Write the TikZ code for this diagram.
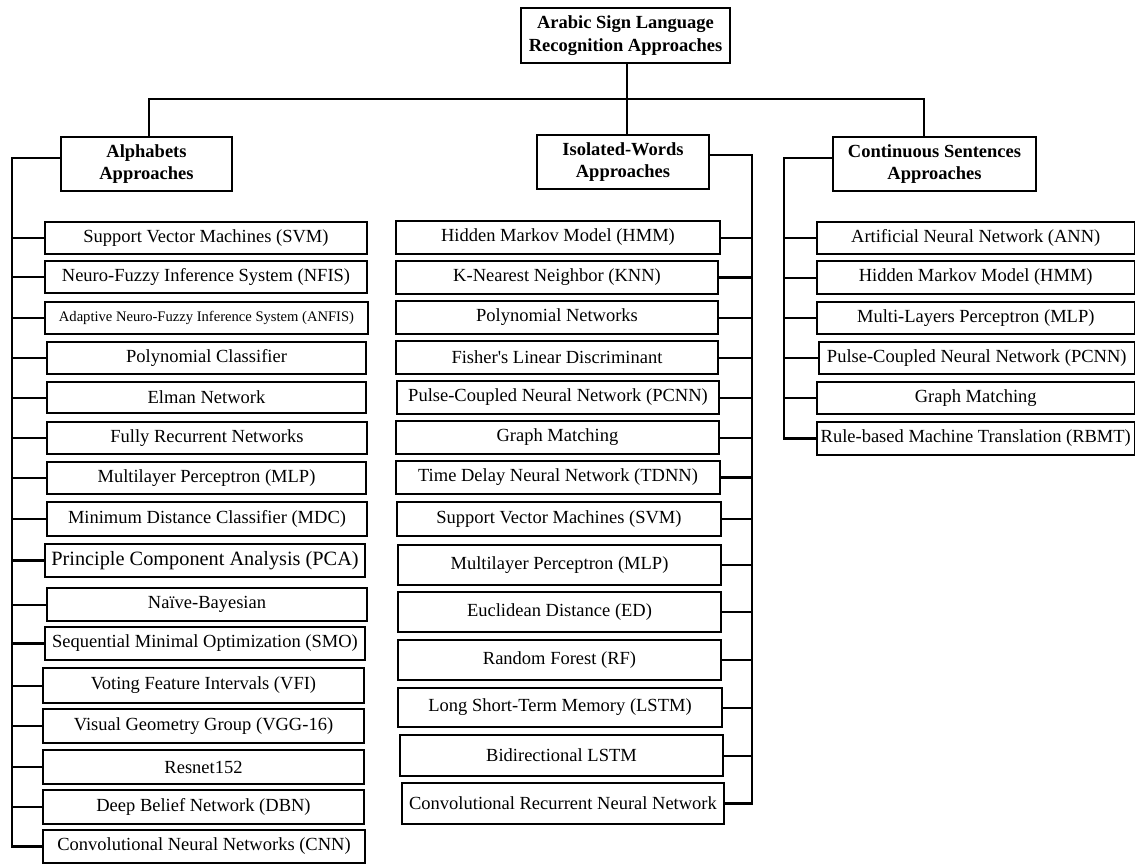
\documentclass[tikz,border=0pt]{standalone}
\usepackage{fontspec}
\setmainfont{Liberation Serif}
\tikzset{
  box/.style={draw=black, line width=1.6pt, fill=white, inner sep=0pt, align=center,
              font=\fontsize{18.5}{22}\selectfont},
  hbox/.style={box, font=\fontsize{18.5}{22.5}\selectfont\bfseries},
  mainline/.style={line width=2.9pt, line cap=rect},
  thinline/.style={line width=2pt},
  thkline/.style={line width=2.9pt},
}
\newcommand\bx[7][]{\node[box,#1,minimum width={(#5-#3)*1pt},minimum height={(#6-#4)*1pt}] (#2) at ({(#3+#5)/2},{(#4+#6)/2}) {#7};}
\begin{document}
\begin{tikzpicture}[x=1pt,y=-1pt]
\fill[white] (0,0) rectangle (1136,864);
\useasboundingbox (0,0) rectangle (1136,864);

% headers
\bx[hbox]{root}{521}{8}{730}{63}{Arabic Sign Language\\Recognition Approaches}
\bx[hbox]{alph}{61}{137}{232}{191}{Alphabets\\Approaches}
\bx[hbox]{iso}{537}{135}{709}{189}{Isolated-Words\\Approaches}
\bx[hbox]{cont}{833}{137}{1036}{191}{Continuous Sentences\\Approaches}

% alphabets items
\bx{a1}{45}{222}{367}{254}{Support Vector Machines (SVM)}
\bx{a2}{45}{261}{367}{293}{Neuro-Fuzzy Inference System (NFIS)}
\bx[font=\fontsize{14.6}{16}\selectfont]{a3}{45}{302}{368}{334}{Adaptive Neuro-Fuzzy Inference System (ANFIS)}
\bx{a4}{47}{342}{366}{374}{Polynomial Classifier}
\bx{a5}{47}{382}{366}{413}{Elman Network}
\bx{a6}{47}{422}{367}{454}{Fully Recurrent Networks}
\bx{a7}{47}{462}{366}{494}{Multilayer Perceptron (MLP)}
\bx{a8}{47}{502}{367}{536}{Minimum Distance Classifier (MDC)}
\bx[font=\fontsize{20.3}{22}\selectfont]{a9}{45}{544}{365}{577}{Principle Component Analysis (PCA)}
\bx{a10}{47}{588}{367}{621}{Naïve-Bayesian}
\bx{a11}{45}{627}{365}{660}{Sequential Minimal Optimization (SMO)}
\bx{a12}{43}{668}{364}{703}{Voting Feature Intervals (VFI)}
\bx{a13}{43}{709}{364}{743}{Visual Geometry Group (VGG-16)}
\bx{a14}{43}{750}{364}{784}{Resnet152}
\bx{a15}{43}{790}{364}{824}{Deep Belief Network (DBN)}
\bx{a16}{43}{830}{365}{863}{Convolutional Neural Networks (CNN)}

% isolated items
\bx{i1}{396}{221}{720}{254}{Hidden Markov Model (HMM)}
\bx{i2}{396}{261}{718}{294}{K-Nearest Neighbor (KNN)}
\bx{i3}{396}{301}{718}{334}{Polynomial Networks}
\bx{i4}{396}{341}{718}{374}{Fisher\textquotesingle s Linear Discriminant}
\bx{i5}{397}{381}{719}{414}{Pulse-Coupled Neural Network (PCNN)}
\bx{i6}{396}{421}{719}{454}{Graph Matching}
\bx{i7}{396}{461}{720}{494}{Time Delay Neural Network (TDNN)}
\bx{i8}{397}{502}{721}{536}{Support Vector Machines (SVM)}
\bx{i9}{398}{545}{721}{585}{Multilayer Perceptron (MLP)}
\bx{i10}{398}{592}{721}{632}{Euclidean Distance (ED)}
\bx{i11}{398}{640}{721}{680}{Random Forest (RF)}
\bx{i12}{398}{688}{722}{727}{Long Short-Term Memory (LSTM)}
\bx{i13}{400}{735}{723}{776}{Bidirectional LSTM}
\bx{i14}{402}{783}{724}{824}{Convolutional Recurrent Neural Network}

% continuous items
\bx{c1}{817}{222}{1134.5}{254}{Artificial Neural Network (ANN)}
\bx{c2}{817}{261}{1134.5}{294}{Hidden Markov Model (HMM)}
\bx{c3}{817}{302}{1134.5}{334}{Multi-Layers Perceptron (MLP)}
\bx{c4}{819}{342}{1134.5}{374}{Pulse-Coupled Neural Network (PCNN)}
\bx{c5}{817}{382}{1134.5}{414}{Graph Matching}
\bx{c6}{817}{422}{1134.5}{455}{Rule-based Machine Translation (RBMT)}

% tree bus
\coordinate (bA) at (149,99);
\coordinate (bI) at (627,99);
\coordinate (bC) at (924,99);
\draw[mainline] (bI |- root.south) -- (bI |- iso.north);
\draw[mainline] (bA |- alph.north) -- (bA) -- (bC) -- (bC |- cont.north);

% alphabets branch
\coordinate (aL) at (12,158);
\draw[mainline] (aL -| alph.west) -- (aL) -- (aL |- a16.west) -- (a16.west);
\foreach \n in {a1,a2,a3,a5,a8,a10,a12,a15}
  \draw[thinline] (aL |- \n.west) -- (\n.west);
\foreach \n in {a4,a6,a7,a9,a11,a13,a14}
  \draw[thkline] (aL |- \n.west) -- (\n.west);

% isolated branch
\coordinate (iR) at (752,155);
\draw[mainline] (iR -| iso.east) -- (iR) -- (iR |- i14.east) -- (i14.east);
\foreach \n in {i1,i3,i4,i5,i6,i8,i9,i10,i11,i12,i13}
  \draw[thinline] (iR |- \n.east) -- (\n.east);
\foreach \n in {i2,i7}
  \draw[thkline] (iR |- \n.east) -- (\n.east);

% continuous branch
\coordinate (cL) at (784,158);
\draw[mainline] (cL -| cont.west) -- (cL) -- (cL |- c6.west) -- (c6.west);
\foreach \n in {c1,c2,c3,c5}
  \draw[thinline] (cL |- \n.west) -- (\n.west);
\draw[thkline] (cL |- c4.west) -- (c4.west);
\end{tikzpicture}
\end{document}
